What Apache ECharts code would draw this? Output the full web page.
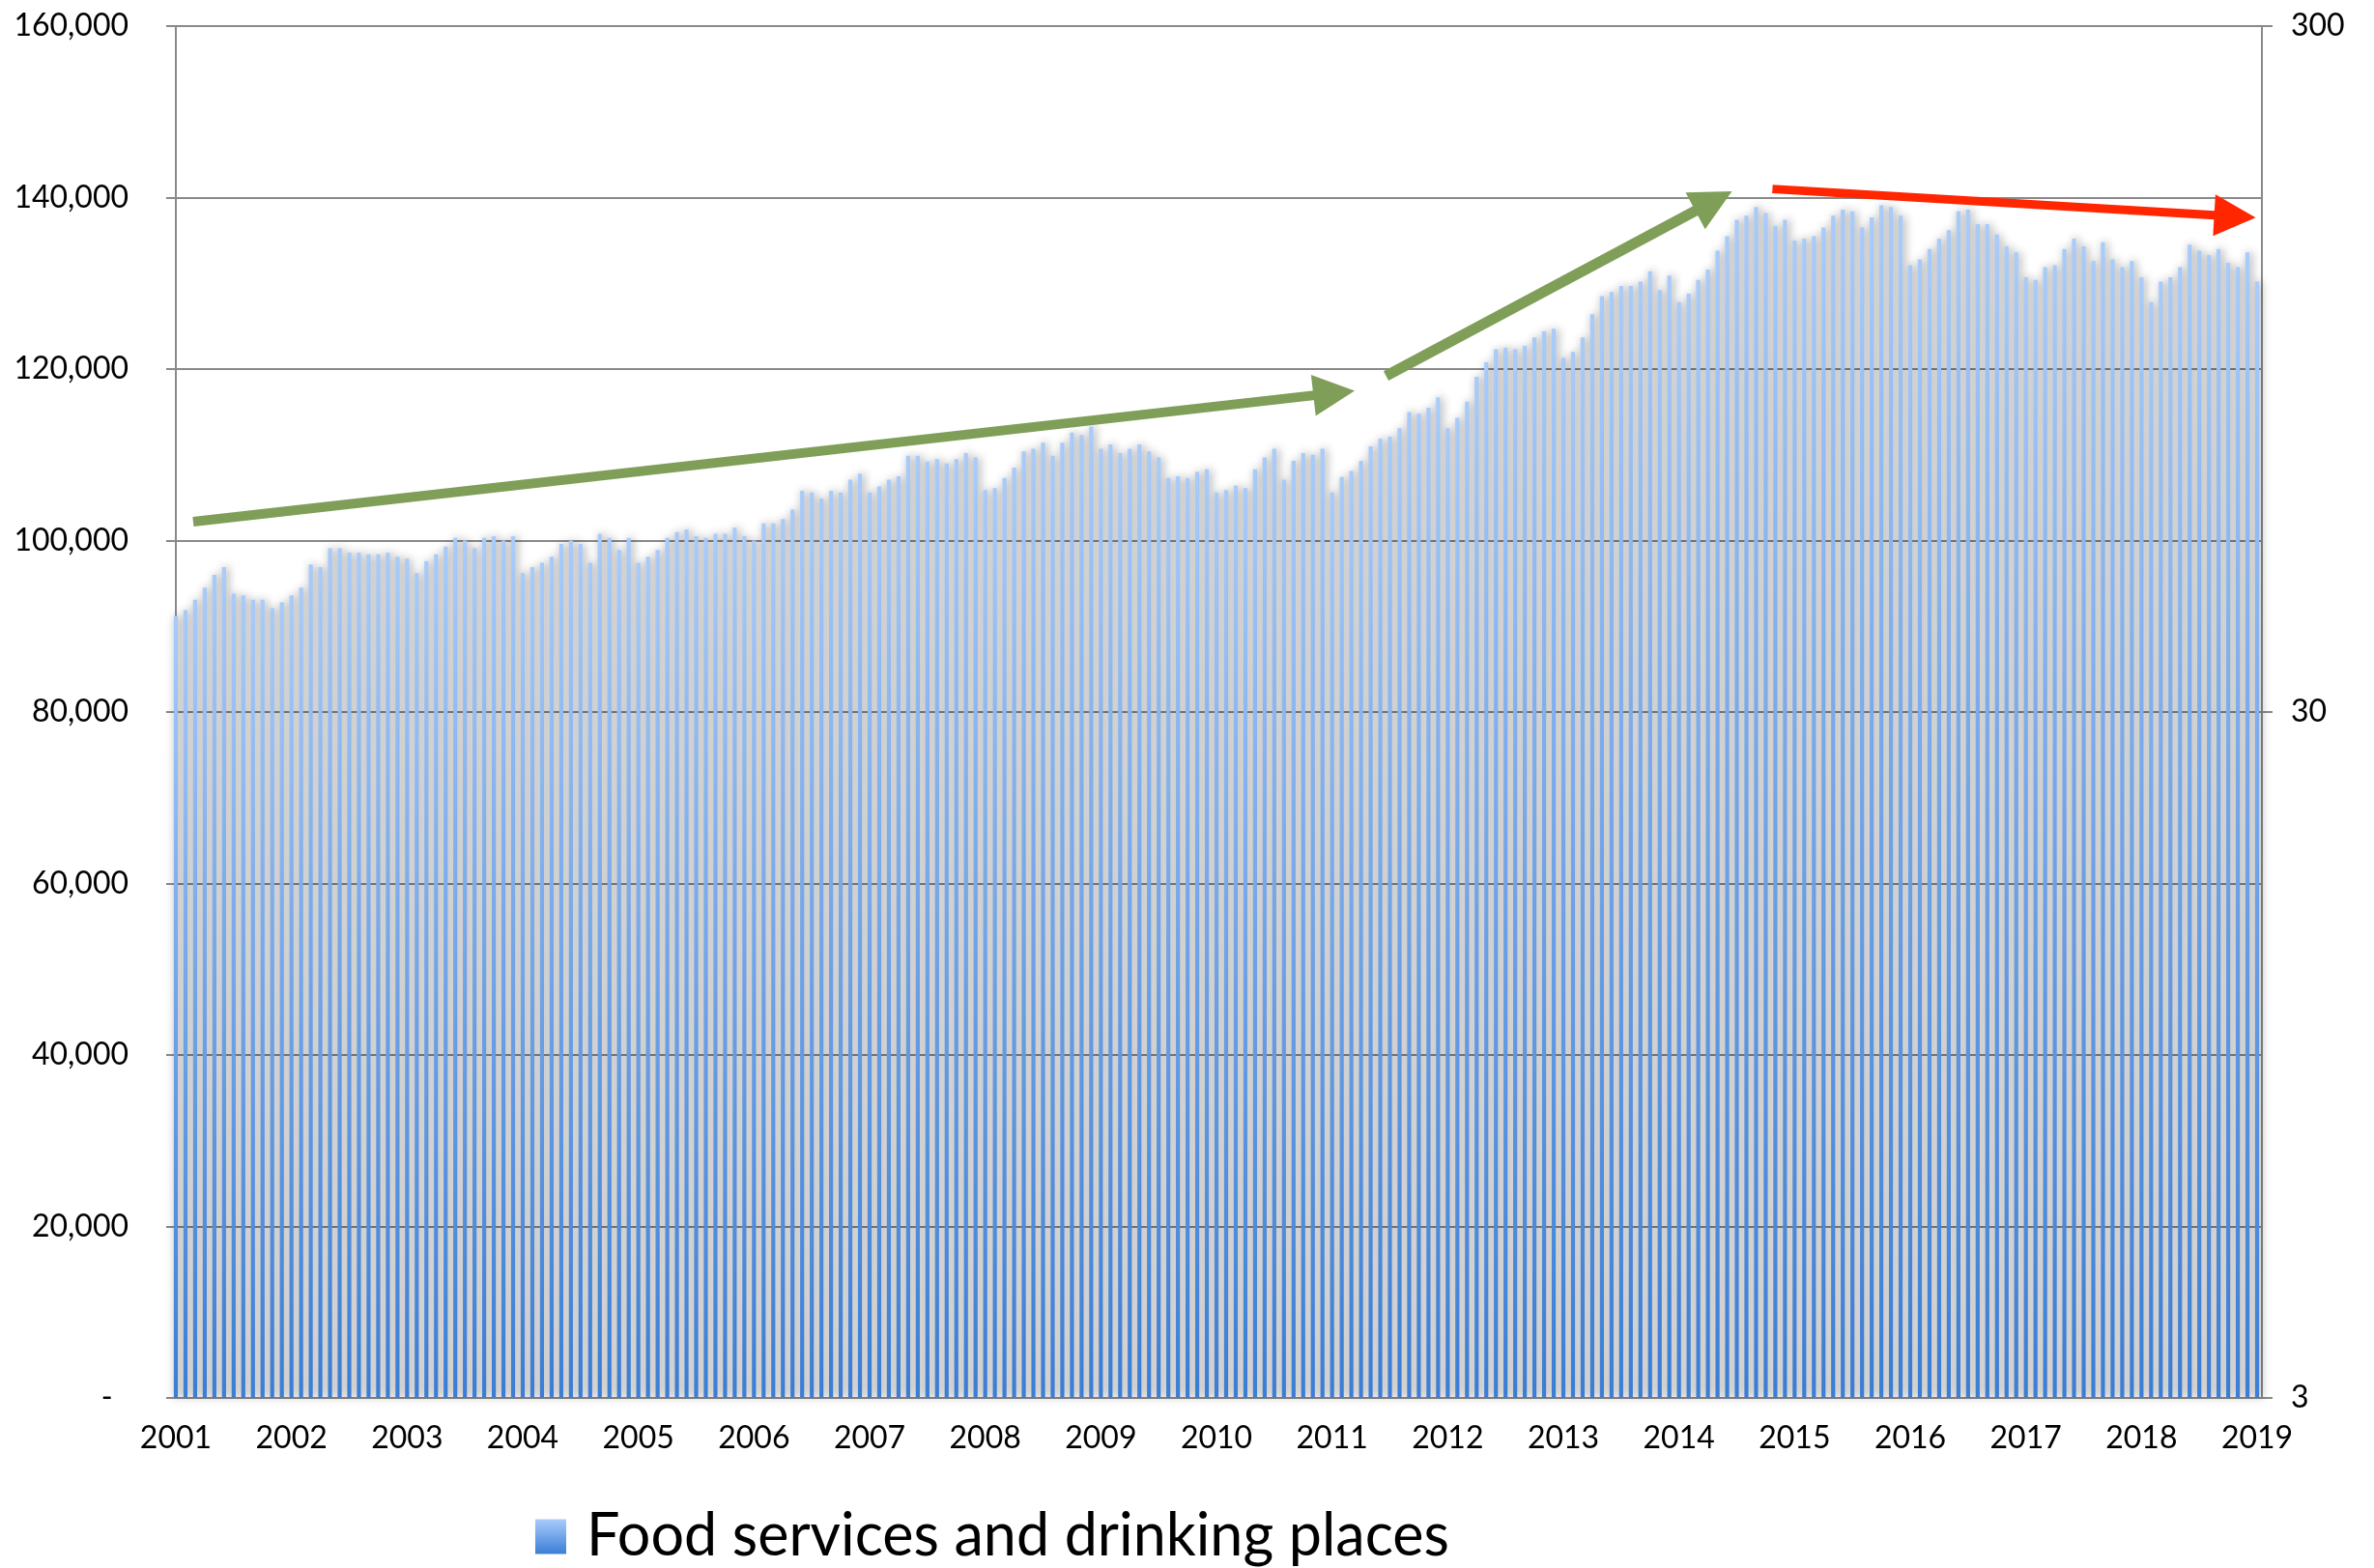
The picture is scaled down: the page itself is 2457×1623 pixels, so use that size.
<!DOCTYPE html>
<html>
<head>
<meta charset="utf-8">
<title>Food services and drinking places</title>
<script src="https://cdn.jsdelivr.net/npm/echarts@6/dist/echarts.min.js"></script>
<style>
  html, body { margin: 0; padding: 0; background: #fff; }
  #chart { width: 2457px; height: 1623px; }
</style>
</head>
<body>
<div id="chart"></div>
<script>
// monthly figures, Jan 2001 .. Jan 2019
const years = ['2001', '2002', '2003', '2004', '2005', '2006', '2007', '2008', '2009', '2010',
  '2011', '2012', '2013', '2014', '2015', '2016', '2017', '2018', '2019'];
const monthNames = ['01', '02', '03', '04', '05', '06', '07', '08', '09', '10', '11', '12'];

const foodServices = [
  91200, 91900, 93100, 94500, 96000, 96900, 93800, 93600, 93100, 93100, 92100, 92800,       // 2001
  93600, 94500, 97200, 96900, 99100, 99100, 98600, 98600, 98400, 98400, 98600, 98100,       // 2002
  97900, 96200, 97600, 98400, 99300, 100300, 100000, 99100, 100300, 100500, 100000, 100500, // 2003
  96200, 96900, 97400, 98100, 99600, 100000, 99600, 97400, 100800, 100300, 98900, 100300,   // 2004
  97400, 98100, 98900, 100300, 101000, 101300, 100500, 100300, 100800, 100800, 101500, 100500, // 2005
  100000, 102000, 102000, 102500, 103600, 105800, 105600, 104900, 105800, 105600, 107100, 107800, // 2006
  105600, 106300, 107100, 107500, 109900, 109900, 109200, 109500, 109000, 109500, 110200, 109700, // 2007
  105900, 106100, 107300, 108500, 110400, 110700, 111400, 109900, 111400, 112600, 112300, 113300, // 2008
  110700, 111200, 110200, 110700, 111200, 110400, 109700, 107300, 107500, 107300, 108000, 108300, // 2009
  105600, 105900, 106400, 106100, 108300, 109700, 110700, 107100, 109300, 110200, 110000, 110700, // 2010
  105600, 107400, 108100, 109300, 111000, 111900, 112100, 113100, 115000, 114800, 115500, 116700, // 2011
  113100, 114300, 116200, 119100, 120800, 122300, 122500, 122300, 122700, 123700, 124400, 124700, // 2012
  121300, 122000, 123700, 126400, 128500, 129000, 129700, 129700, 130200, 131400, 129200, 130900, // 2013
  127800, 128800, 130400, 131600, 133800, 135500, 137400, 137900, 138900, 138200, 136700, 137400, // 2014
  135000, 135200, 135500, 136500, 137900, 138600, 138400, 136500, 137700, 139100, 138900, 137900, // 2015
  132100, 132800, 134000, 135200, 136200, 138400, 138600, 136900, 136900, 135700, 134300, 133600, // 2016
  130700, 130400, 131900, 132100, 134000, 135200, 134300, 132600, 134800, 132800, 131900, 132600, // 2017
  130700, 127800, 130200, 130700, 131900, 134500, 133800, 133300, 134000, 132400, 131900, 133600, // 2018
  130200                                                                                    // 2019
];

const leftTicks = [0, 20000, 40000, 60000, 80000, 100000, 120000, 140000, 160000];
const rightTicks = ['3', '30', '300'];   // log scale labels on the right

// trend arrows: [monthIndex, value] start and end (end = centre of the head)
const greenArrow1 = [[1.8, 102200], [120.2, 117200]];
const greenArrow2 = [[125.6, 119200], [159.6, 139600]];
const redArrow = [[165.7, 141000], [213.7, 137800]];

// month labels built from the year list
const months = [];
years.forEach(function (y) {
  monthNames.forEach(function (m) {
    if (months.length < foodServices.length) months.push(y + '-' + m);
  });
});

const chart = echarts.init(document.getElementById('chart'));
const gridGrey = '#8a8a8a';
const fontFam = 'Lato, "Open Sans", sans-serif';

const barColor = new echarts.graphic.LinearGradient(0, 0, 0, 1, [
  { offset: 0, color: '#a9ccfb' },
  { offset: 1, color: '#3b7ed6' }
]);

const option = {
  backgroundColor: '#fff',
  animation: false,
  grid: {
    left: 177, right: 116, top: 27, bottom: 176,
    outerBoundsMode: 'none'
  },
  legend: {
    data: [{ name: 'Food services and drinking places', icon: 'rect' }],
    left: 554,
    top: 1560,
    padding: 0,
    itemWidth: 32,
    itemHeight: 36,
    itemStyle: { shadowBlur: 0, shadowColor: 'transparent' },
    textStyle: {
      fontFamily: fontFam,
      fontSize: 61,
      color: '#000',
      padding: [0, 0, 0, 16]
    }
  },
  xAxis: [
    {
      type: 'category',
      data: months,
      boundaryGap: true,
      axisLine: { lineStyle: { color: gridGrey, width: 2 } },
      axisTick: { interval: 0, length: 10, lineStyle: { color: gridGrey, width: 2 } },
      axisLabel: {
        interval: 11,
        margin: 26,
        fontFamily: fontFam,
        fontSize: 32,
        color: '#000',
        formatter: function (v) { return v.slice(0, 4); }
      },
      splitLine: { show: false }
    },
    {
      // helper axis for the annotation arrows, same spacing as the months
      type: 'value',
      min: -0.5,
      max: foodServices.length - 0.5,
      show: false
    }
  ],
  yAxis: [
    {
      type: 'value',
      min: leftTicks[0],
      max: leftTicks[leftTicks.length - 1],
      interval: 20000,
      axisLine: { show: true, lineStyle: { color: gridGrey, width: 2 } },
      axisTick: { show: true, length: 10, lineStyle: { color: gridGrey, width: 2 } },
      axisLabel: {
        margin: 44,
        fontFamily: fontFam,
        fontSize: 32,
        color: '#000',
        formatter: function (v) { return v === 0 ? '-  ' : v.toLocaleString('en-US'); }
      },
      splitLine: { show: true, lineStyle: { color: gridGrey, width: 2 } }
    },
    {
      type: 'value',
      position: 'right',
      min: 0,
      max: rightTicks.length - 1,
      interval: 1,
      axisLine: { show: true, lineStyle: { color: gridGrey, width: 2 } },
      axisTick: { show: true, length: 11, lineStyle: { color: gridGrey, width: 2 } },
      axisLabel: {
        margin: 30,
        fontFamily: fontFam,
        fontSize: 32,
        color: '#000',
        formatter: function (v) { return rightTicks[Math.round(v)]; }
      },
      splitLine: { show: false }
    }
  ],
  series: [
    {
      name: 'Food services and drinking places',
      type: 'bar',
      data: foodServices,
      barWidth: '42%',
      itemStyle: {
        color: barColor,
        shadowColor: 'rgba(0,0,0,0.45)',
        shadowBlur: 10,
        shadowOffsetX: 2,
        shadowOffsetY: 0
      }
    },
    {
      type: 'lines',
      coordinateSystem: 'cartesian2d',
      xAxisIndex: 1,
      yAxisIndex: 0,
      silent: true,
      z: 10,
      symbol: ['none', 'triangle'],
      symbolSize: 43,
      data: [
        { coords: greenArrow1, lineStyle: { color: '#7f9f58', width: 10, opacity: 1 } },
        { coords: greenArrow2, lineStyle: { color: '#7f9f58', width: 11, opacity: 1 } },
        { coords: redArrow, lineStyle: { color: '#ff2600', width: 9, opacity: 1 } }
      ]
    }
  ]
};

chart.setOption(option);
</script>
</body>
</html>
